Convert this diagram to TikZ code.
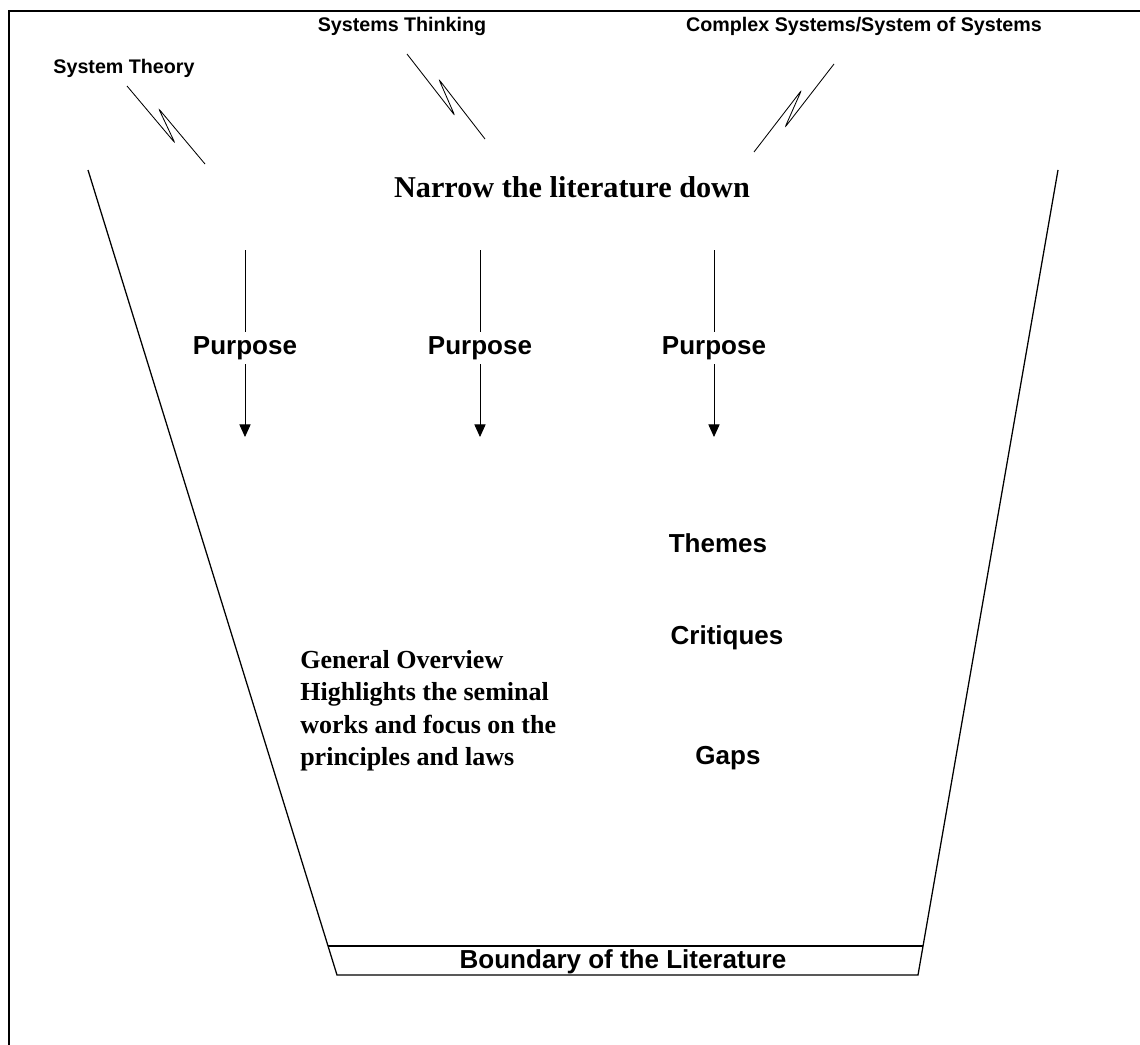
\documentclass[tikz,border=0pt]{standalone}
\usepackage{fontspec}
\setmainfont{Liberation Serif}
\setsansfont{Liberation Sans}
\usetikzlibrary{calc,arrows.meta}
\tikzset{
  wall/.style={draw=black, line width=0.9pt},
  bolt/.style={draw=black, line width=0.6pt, rounded corners=1.5pt},
  flow/.style={draw=black, line width=0.6pt},
  tipped/.style={-{Triangle[width=8pt,length=9pt]}},
  lab/.style={font=\sffamily\bfseries\fontsize{14}{16}\selectfont, inner sep=0pt},
  word/.style={font=\sffamily\bfseries\fontsize{18.5}{21}\selectfont, inner sep=3pt},
  head/.style={font=\bfseries\fontsize{21.5}{25}\selectfont, inner sep=0pt},
  note/.style={font=\bfseries\fontsize{18.5}{23}\selectfont, align=left, inner sep=0pt}
}
% squiggled pointer: from, to, first turn, second turn
\newcommand{\boltline}[4]{%
  \draw[bolt] (#1) -- ($(#1)!0.67!(#2)!4.5pt!#3:(#2)$)
    -- ($(#1)!0.35!(#2)!4.5pt!#4:(#2)$) -- (#2);}

\begin{document}
\begin{tikzpicture}[x=0.025cm, y=-0.025cm]
  \useasboundingbox (0,0) rectangle (1140,1045);

  % scan frame
  \draw[wall] (9,1045) -- (9,11) -- (1140,11);

  % funnel
  \coordinate (lt) at (88,170);
  \coordinate (lb) at (337,975);
  \coordinate (rt) at (1058,170);
  \coordinate (rb) at (918,975);
  \coordinate (bl) at ($(lt)!0.964!(lb)$);
  \coordinate (br) at ($(rt)!0.964!(rb)$);
  \draw[wall] (lt) -- (lb) -- (rb) -- (rt);
  \draw[wall] (bl) -- (br);
  \node[word] (bound) at (623,962) {Boundary of the Literature};

  % sources
  \node[lab] (theory) at (124,68) {System Theory};
  \node[lab] (think) at (402,26) {Systems Thinking};
  \node[lab] (complex) at (864,26) {Complex Systems/System of Systems};
  \coordinate (theoryA) at (127,86);  \coordinate (theoryB) at (205,164);
  \coordinate (thinkA) at (407,54);   \coordinate (thinkB) at (485,139);
  \coordinate (complexA) at (834,64); \coordinate (complexB) at (754,152);
  \boltline{theoryA}{theoryB}{-90}{90}
  \boltline{thinkA}{thinkB}{-90}{90}
  \boltline{complexA}{complexB}{90}{-90}

  \node[head] (narrow) at (572,187) {Narrow the literature down};

  % purposes
  \foreach \n/\x in {a/245,b/480,c/714}{
    \node[word] (p\n) at (\x,348) {Purpose};
    \coordinate (s\n) at (\x,250);
    \coordinate (t\n) at (\x,437);
    \draw[flow] (s\n) -- (p\n.north);
    \draw[flow,tipped] (p\n.south) -- (t\n);
  }

  \node[word] (themes) at (718,543) {Themes};
  \node[word] (critiques) at (727,638) {Critiques};
  \node[word] (gaps) at (728,758) {Gaps};

  \node[note, anchor=north west] (overview) at (300,650)
    {General Overview\\Highlights the seminal\\works and focus on the\\principles and laws};
\end{tikzpicture}
\end{document}
